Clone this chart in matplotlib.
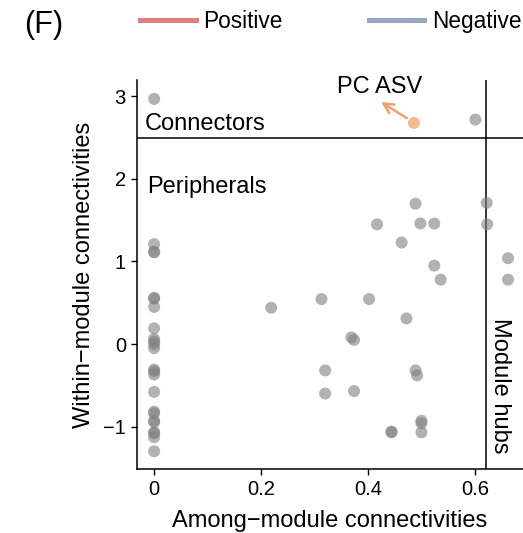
import matplotlib
matplotlib.use('Agg')
import matplotlib.pyplot as plt
from matplotlib.lines import Line2D

plt.rcParams['font.family'] = ['Liberation Sans', 'DejaVu Sans']

# among-module (Pi) and within-module (Zi) connectivities of the nodes
pi_vals = [0, 0, 0, 0, 0, 0, 0, 0, 0, 0, 0, 0, 0, 0, 0, 0, 0, 0, 0, 0, 0, 0, 0, 0,
           0.219, 0.313, 0.32, 0.32, 0.601, 0.489, 0.622, 0.417, 0.498, 0.524,
           0.623, 0.463, 0.662, 0.524, 0.536, 0.662, 0.402, 0.472, 0.369, 0.374,
           0.489, 0.492, 0.374, 0.50, 0.50, 0.50, 0.444, 0.444]
zi_vals = [2.97, 1.21, 1.11, 1.12, 0.56, 0.55, 0.45, 0.19, 0.06, 0.03, 0.0, -0.05,
           -0.31, -0.33, -0.37, -0.58, -0.82, -0.84, -0.93, -0.95, -1.07, -1.08,
           -1.13, -1.30,
           0.44, 0.545, -0.32, -0.6, 2.72, 1.70, 1.71, 1.45, 1.46, 1.46,
           1.45, 1.23, 1.04, 0.95, 0.78, 0.78, 0.545, 0.31, 0.08, 0.05,
           -0.32, -0.38, -0.57, -0.93, -0.96, -1.07, -1.07, -1.06]

# the highlighted connector ASV
pc_pi = [0.486]
pc_zi = [2.68]

zi_cut = 2.5
pi_cut = 0.62

fig = plt.figure(figsize=(5.23, 5.33), dpi=100)
ax = fig.add_axes([0.262, 0.12, 0.738, 0.73])

ax.scatter(pi_vals, zi_vals, s=75, color='#7f7f7f', alpha=0.6, edgecolors='none', zorder=3)
ax.scatter(pc_pi, pc_zi, s=75, color='#f5ba94', edgecolors='none', zorder=3)

ax.axhline(zi_cut, color='black', lw=1.1, zorder=2)
ax.axvline(pi_cut, color='black', lw=1.1, zorder=2)

ax.annotate('', xy=(0.42, 2.95), xytext=(0.477, 2.72),
            arrowprops=dict(arrowstyle='->', color='#f0a070', lw=1.8, mutation_scale=18))
ax.text(0.422, 3.11, 'PC ASV', fontsize=17, ha='center', va='center')

ax.text(-0.017, 2.53, 'Connectors', fontsize=17, ha='left', va='bottom')
ax.text(-0.013, 1.9, 'Peripherals', fontsize=17, ha='left', va='center')
ax.text(0.647, -0.5, 'Module hubs', fontsize=17, ha='center', va='center', rotation=270)

ax.set_xlim(-0.032, 0.69)
ax.set_ylim(-1.515, 3.2)
ax.set_xticks([0, 0.2, 0.4, 0.6])
ax.set_xticklabels(['0', '0.2', '0.4', '0.6'])
ax.set_yticks([-1, 0, 1, 2, 3])
ax.spines['top'].set_visible(False)
ax.spines['right'].set_visible(False)
ax.spines['left'].set_linewidth(1.1)
ax.spines['bottom'].set_linewidth(1.1)
ax.tick_params(labelsize=14.5, length=4, width=1, pad=4)

ax.set_xlabel('Among\u2212module connectivities', fontsize=17, labelpad=8)
ax.set_ylabel('Within\u2212module connectivities', fontsize=17, labelpad=6)

fig.text(0.047, 0.953, '(F)', fontsize=22, ha='left', va='center')

handles = [Line2D([0], [0], color='#d98080', lw=3.6),
           Line2D([0], [0], color='#94a8c4', lw=3.6)]
fig.legend(handles, ['Positive', 'Negative'], loc='center left', bbox_to_anchor=(0.268, 0.959),
           ncol=2, frameon=False, fontsize=16.3, handlelength=2.45, handletextpad=0.35,
           columnspacing=3.8, borderaxespad=0, borderpad=0)

fig.savefig('out.png', dpi=100)
